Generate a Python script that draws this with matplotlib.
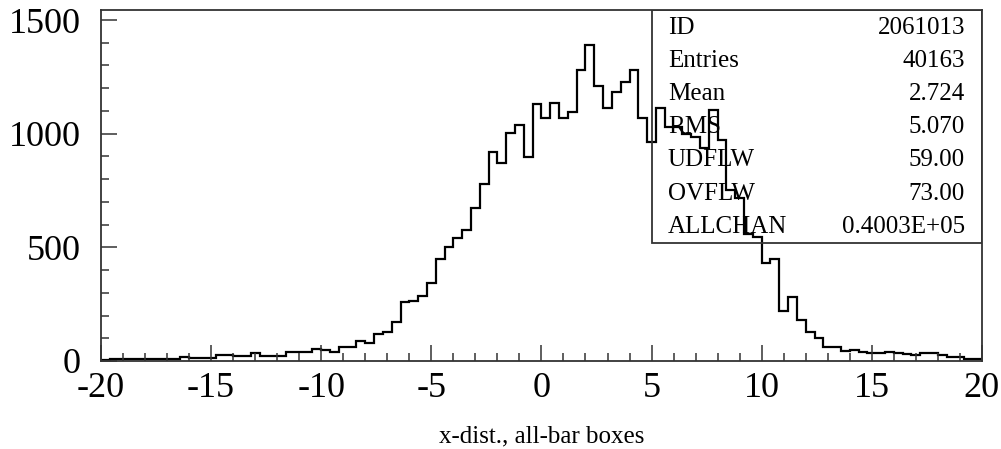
import numpy as np
import matplotlib
matplotlib.use('Agg')
import matplotlib.pyplot as plt
import matplotlib.patches as patches
from matplotlib.ticker import MultipleLocator

plt.rcParams['font.family'] = ['Liberation Serif', 'DejaVu Serif']
plt.rcParams['axes.unicode_minus'] = False

# histogram: 100 bins of width 0.4 from -20 to 20
x_lo, x_hi, n_bins = -20, 20, 100
counts = [5, 8, 8, 10, 10, 9, 10, 8, 8, 16,
          15, 15, 12, 26, 26, 22, 22, 37, 20, 20,
          23, 41, 41, 41, 53, 48, 41, 63, 60, 89,
          78, 117, 129, 173, 258, 264, 288, 345, 447, 503,
          542, 577, 672, 780, 921, 873, 1005, 1039, 896, 1131,
          1068, 1137, 1071, 1097, 1281, 1388, 1210, 1115, 1182, 1226,
          1281, 1068, 965, 1115, 1031, 1031, 1000, 987, 935, 1105,
          973, 752, 717, 560, 545, 430, 447, 221, 283, 180,
          126, 100, 63, 63, 44, 48, 38, 34, 34, 41,
          37, 29, 26, 34, 34, 26, 16, 16, 7, 7]

stat_names = ['ID', 'Entries', 'Mean', 'RMS', 'UDFLW', 'OVFLW', 'ALLCHAN']
stat_values = ['2061013', '40163', '2.724', '5.070', '59.00', '73.00', '0.4003E+05']

x_label = 'x-dist., all-bar boxes'

edges = np.linspace(x_lo, x_hi, n_bins + 1)

fig = plt.figure(figsize=(10.01, 4.49), dpi=100)
ax = fig.add_axes([0.1009, 0.196, 0.880, 0.7817])

ax.stairs(counts, edges, color='black', linewidth=1.6)

ax.set_xlim(x_lo, x_hi)
ax.set_ylim(0, 1544)
ax.xaxis.set_major_locator(MultipleLocator(5))
ax.xaxis.set_minor_locator(MultipleLocator(1))
ax.yaxis.set_major_locator(MultipleLocator(500))
ax.yaxis.set_minor_locator(MultipleLocator(100))
ax.tick_params(which='both', direction='in', top=False, right=False,
               width=1.1, color='#333333')
ax.tick_params(which='major', length=11.5, labelsize=26)
ax.tick_params(which='minor', length=5.8)
ax.tick_params(axis='y', which='major', pad=14.5)
ax.tick_params(axis='x', which='major', pad=8)
for s in ax.spines.values():
    s.set_color('#333333')
    s.set_linewidth(1.3)

fig.text(0.5409, 0.027, x_label, ha='center', va='center', fontsize=18)

# stats box in the top right corner
ax.add_patch(patches.Rectangle((0.6254, 0.336), 0.3746, 0.664,
                               transform=ax.transAxes, fill=False,
                               edgecolor='#333333', linewidth=1.3, zorder=3))
row_y = 1 - (28 - 10) / 351
for i in range(len(stat_names)):
    y = row_y - i * 33.1 / 351
    ax.text(0.6436, y, stat_names[i], transform=ax.transAxes,
            ha='left', va='center', fontsize=18)
    ax.text(0.9807, y, stat_values[i], transform=ax.transAxes,
            ha='right', va='center', fontsize=18)

fig.savefig('out.png', dpi=100)
